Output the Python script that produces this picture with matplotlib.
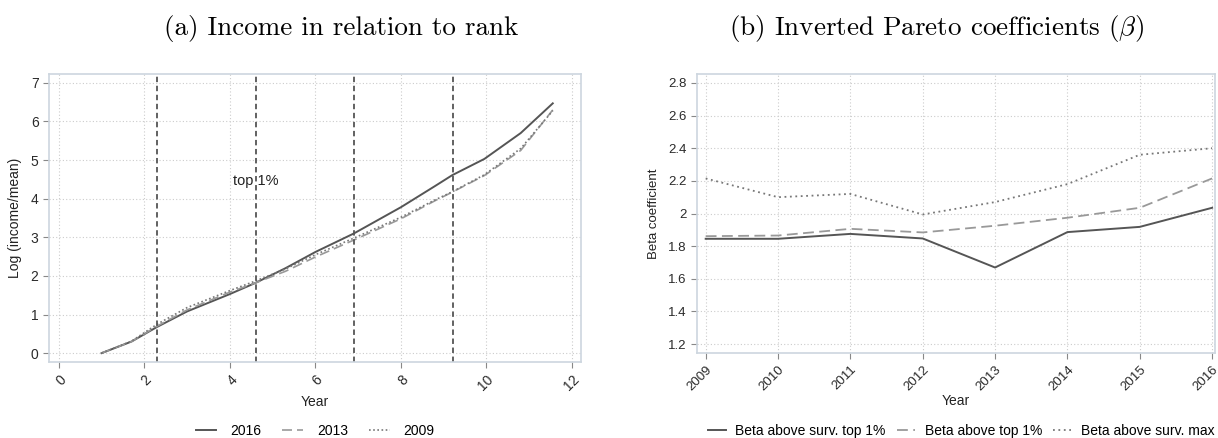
import numpy as np
import matplotlib.pyplot as plt

# panel (a): log income over mean against log rank
rank = [1.0, 1.7, 2.3, 3.0, 4.0, 4.6, 5.3, 6.0, 6.9, 8.0, 8.8, 9.2, 9.95, 10.8, 11.55]
inc_2016 = [0.0, 0.3, 0.68, 1.08, 1.53, 1.82, 2.2, 2.62, 3.1, 3.78, 4.33, 4.61, 5.03, 5.7, 6.47]
inc_2013 = [0.0, 0.3, 0.7, 1.12, 1.58, 1.82, 2.12, 2.49, 2.93, 3.48, 3.95, 4.17, 4.6, 5.25, 6.3]
inc_2009 = [0.0, 0.31, 0.75, 1.18, 1.62, 1.87, 2.18, 2.55, 2.98, 3.52, 3.97, 4.18, 4.62, 5.3, 6.28]
cutoffs = [np.log(10), np.log(100), np.log(1000), np.log(10000)]

# panel (b): inverted Pareto coefficients
years = [2009, 2010, 2011, 2012, 2013, 2014, 2015, 2016]
beta_surv_top1 = [1.845, 1.845, 1.875, 1.847, 1.669, 1.886, 1.918, 2.035]
beta_top1 = [1.861, 1.865, 1.906, 1.884, 1.925, 1.974, 2.035, 2.215]
beta_surv_max = [2.215, 2.10, 2.12, 1.994, 2.07, 2.18, 2.36, 2.40]

plt.rcParams['font.family'] = ['Liberation Sans', 'DejaVu Sans']
plt.rcParams['mathtext.fontset'] = 'cm'

frame_col = '#cdd6df'
tick_col = '#2a2a2a'

fig = plt.figure(figsize=(12.18, 4.38), dpi=100)
ax1 = fig.add_axes([49/1218, 1-362/438, 532/1218, 288/438])
ax2 = fig.add_axes([697/1218, 1-353/438, 518/1218, 279/438])


def style(ax, fs):
    for s in ax.spines.values():
        s.set_color(frame_col)
        s.set_linewidth(1.2)
    ax.grid(True, linestyle=(0, (1, 2)), color='#cccccc', linewidth=0.8)
    ax.set_axisbelow(True)
    ax.tick_params(colors='#888888', labelcolor=tick_col, labelsize=fs, length=4)
    for lab in ax.get_xticklabels():
        lab.set_rotation(45)
        lab.set_ha('right')
        lab.set_rotation_mode('anchor')


l1, = ax1.plot(rank, inc_2016, color='#555555', lw=1.4, label='2016')
l2, = ax1.plot(rank, inc_2013, color='#999999', lw=1.2, ls=(0, (6, 3)), label='2013')
l3, = ax1.plot(rank, inc_2009, color='#777777', lw=1.2, ls=(0, (1, 1.5)), label='2009')
for c in cutoffs:
    ax1.axvline(c, color='#555555', lw=1.3, ls=(0, (3, 2)))
ax1.text(np.log(100), 4.45, 'top 1%', ha='center', va='center', fontsize=10.5, color='#222222')
ax1.set_xlim(-0.23, 12.21)
ax1.set_ylim(-0.23, 7.23)
ax1.set_xticks(range(0, 13, 2))
ax1.set_yticks(range(0, 8))
style(ax1, 10)
ax1.set_xlabel('Year', fontsize=10, color='#222222', labelpad=1)
ax1.set_ylabel('Log (income/mean)', fontsize=10, color='#222222', labelpad=6)
fig.legend(handles=[l1, l2, l3], loc='center', bbox_to_anchor=(315/1218, 1-431/438),
           ncol=3, frameon=False, fontsize=10, handlelength=1.5, handletextpad=1.0,
           columnspacing=1.5, borderpad=0.1)
fig.text(341/1218, 1-28/438, '(a) Income in relation to rank', family='cmr10',
         fontsize=19.5, ha='center', va='center')

m1, = ax2.plot(years, beta_surv_top1, color='#555555', lw=1.4, label='Beta above surv. top 1%')
m2, = ax2.plot(years, beta_top1, color='#999999', lw=1.3, ls=(0, (6, 3)), label='Beta above top 1%')
m3, = ax2.plot(years, beta_surv_max, color='#777777', lw=1.3, ls=(0, (1, 2)), label='Beta above surv. max')
ax2.set_xlim(2008.88, 2016.04)
ax2.set_ylim(1.145, 2.855)
ax2.set_xticks(years)
ax2.set_yticks(np.arange(1.2, 2.81, 0.2))
ax2.set_yticklabels(['1.2', '1.4', '1.6', '1.8', '2', '2.2', '2.4', '2.6', '2.8'])
style(ax2, 9.5)
ax2.set_xlabel('Year', fontsize=10, color='#222222', labelpad=1)
ax2.set_ylabel('Beta coefficient', fontsize=9.5, color='#222222', labelpad=6)
fig.legend(handles=[m1, m2, m3], loc='center', bbox_to_anchor=(961/1218, 1-431/438),
           ncol=3, frameon=False, fontsize=10, handlelength=1.3, handletextpad=0.7,
           columnspacing=0.8, borderpad=0.1)
fig.text(937/1218, 1-28/438, r'(b) Inverted Pareto coefficients ($\beta$)', family='cmr10',
         fontsize=19.5, ha='center', va='center')

fig.savefig('out.png', dpi=100)
